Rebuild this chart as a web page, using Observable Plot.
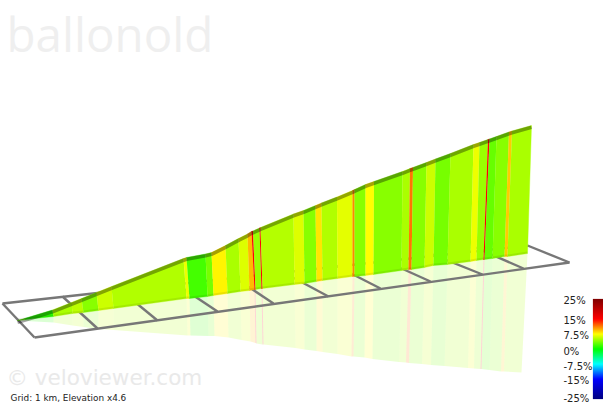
<!DOCTYPE html>
<html><head><meta charset="utf-8">
<script src="https://cdn.jsdelivr.net/npm/d3@7"></script>
<script src="https://cdn.jsdelivr.net/npm/@observablehq/plot@0.6"></script>
<style>html,body{margin:0;padding:0;background:#fff}svg{display:block}</style>
</head><body><div id="chart"></div>
<script>
// Road section gradients (%), one per section between neighbouring boundaries
const gradients = [3,1.2,5,5.5,4,6,5.2,7,2,3.5,7.8,5,6.5,9.5,15,4.5,15,5.3,6.5,4,8.2,5.2,6.7,11,4,7.5,4,5,11.5,4,6,3.5,5,7,4.5,15,3,4,9,5];
// Projected wall boundaries
const baseX = [17,25,53,72,83,98,113,186,189,207,213,227,240,249,254,255,261,262,294,304,316,322,337,352,354,365,373,401,408,411,424,433,447,470,476,483,484,492,504,507,527];
const baseY = [320,319,316,313,312,310,308,298,298,296,295,293,291,290,289,289,288,288,284,283,281,280,278,276,276,275,274,270,269,269,267,265,264,261,260,259,259,258,256,256,253];
const topX = [17,24,52,71,81,96,111,183,186,205,211,225,238,247,251,252.5,259,260,293,303,315,321,336.5,352,354,365,373.5,402,409.5,412.5,426,435,450,473,479,487.5,489,496,508.5,511.5,531];
const topY = [320,318,309.5,302,298,292,286,258,257,253.5,252,245,238,233.5,231,230.5,227.5,227,213.5,210,205,202.5,196.5,190,189,184,181,171,168,167,162,158.5,153,144,142,139,138.5,136,131.5,130.5,125];
const mirrorX = [17,25,53,72,83,98,113,187,190,208,214,228,241,250,255,256,262,263,295,304,316,322,337,351,353,364,372,398.5,405.5,408.5,421.5,430.5,444,467.5,473.5,480,481,489,500.5,503.5,521];
const mirrorY = [320,320.5,322,325,326.5,328.5,329.5,335,335,335.5,335.5,337,339.5,341,342.5,343,344,344,347.5,349,350.5,351.5,353.5,356,356,357,358.5,361.5,362,362.5,363.5,364.5,365.5,367.5,368,368.5,368.5,369.5,371,371,372];
// Ground grid
const gridX1 = [2,34,2,527,62,118,175,231,285,333,379,427,475];
const gridY1 = [303,337,303,245,296,288,283,275,273,264,258,252,247];
const gridX2 = [34,569,527,569,97,157,217,273,328,380,430,482,523];
const gridY2 = [337,262,245,262,328,320,311,303,296,288,281,274,268];
// Colour key
const keyStops = [-25,-15,-7.5,0,7.5,15,25];
const keyColors = ["#00007f","#0000ff","#00ffff","#00ff00","#ffff00","#ff0000","#7f0000"];
const keyLabels = ["25%","15%","7.5%","0%","-7.5%","-15%","-25%"];
const keyLabelY = [300.5,320.5,335.5,351,366,380.5,398];
const keyValues = d3.range(-25,25,0.5);
const titleText = "ballonold";
const markText = "© veloviewer.com";
const noteText = "Grid: 1 km, Elevation x4.6";

const wall = [], mirror = [];
gradients.forEach((g,i)=>{
  [[topX[i],topY[i]],[topX[i+1],topY[i+1]],[baseX[i+1],baseY[i+1]],[baseX[i],baseY[i]]]
    .forEach(([x,y])=>wall.push({id:i,g,x,y}));
  [[baseX[i],baseY[i]],[baseX[i+1],baseY[i+1]],[mirrorX[i+1],mirrorY[i+1]],[mirrorX[i],mirrorY[i]]]
    .forEach(([x,y])=>mirror.push({id:i,g,x,y}));
});
const font = "DejaVu Sans";
const keyY = v => 349 - 2*v;

const plot = Plot.plot({
  width:603,height:404,margin:0,
  style:{background:"#fff"},
  x:{domain:[0,603],range:[0,603],axis:null},
  y:{domain:[0,404],range:[0,404],axis:null},
  color:{type:"linear",domain:keyStops,range:keyColors,interpolate:"rgb"},
  marks:[
    Plot.text([titleText],{x:6,y:51,text:d=>d,textAnchor:"start",lineAnchor:"bottom",fontFamily:"Open Sans",fontSize:47.5,fill:"#efefef"}),
    Plot.text([markText],{x:6,y:384,text:d=>d,textAnchor:"start",lineAnchor:"bottom",fontFamily:font,fontSize:21.5,fill:"#e9e9e9"}),
    Plot.line(mirror,{x:"x",y:"y",z:"id",fill:"g",fillOpacity:.17,stroke:"none"}),
    Plot.link(gridX1,{x1:gridX1,y1:gridY1,x2:gridX2,y2:gridY2,stroke:"#777",strokeWidth:2.4}),
    Plot.line(wall,{x:"x",y:"y",z:"id",fill:"g",stroke:"g",strokeWidth:.4}),
    Plot.line(topX,{x:topX,y:topY,dy:1.8,stroke:"#000",strokeOpacity:.35,strokeWidth:3.6,strokeLinecap:"butt"}),
    Plot.line(baseX,{x:baseX,y:baseY,dy:-1,stroke:"#000",strokeOpacity:.08,strokeWidth:2,strokeLinecap:"butt"}),
    Plot.rect(keyValues,{x1:593,x2:603,y1:v=>keyY(v+0.5),y2:v=>keyY(v),fill:v=>v+0.25,inset:-0.1}),
    Plot.text(keyLabels,{x:563,y:keyLabelY,text:keyLabels,textAnchor:"start",fontFamily:font,fontSize:10,fill:"#222"}),
    Plot.text([noteText],{x:10,y:398,text:d=>d,textAnchor:"start",fontFamily:font,fontSize:8.9,fill:"#222"})
  ]
});
document.getElementById("chart").append(plot);
</script></body></html>
